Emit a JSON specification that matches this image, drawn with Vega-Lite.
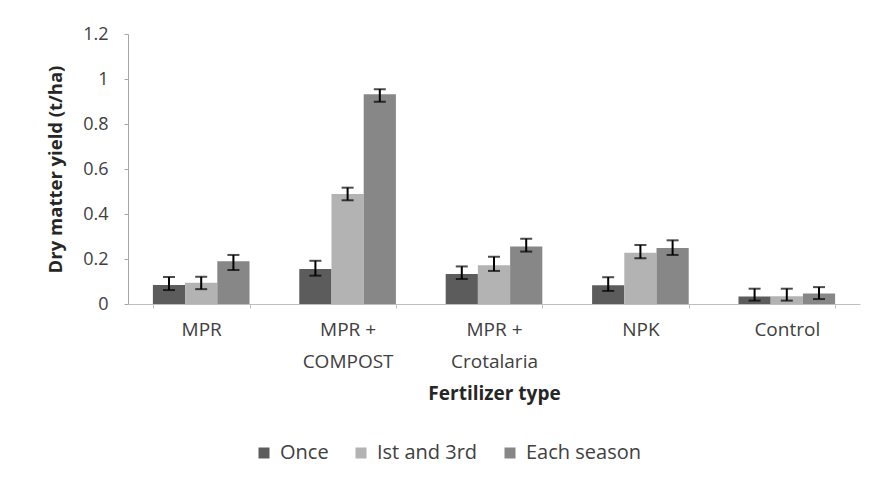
{
  "$schema": "https://vega.github.io/schema/vega-lite/v6.json",
  "width": 732,
  "height": 270,
  "autosize": {"type": "none"},
  "padding": {"left": 128, "top": 34, "right": 15, "bottom": 177},
  "background": "white",
  "config": {"view": {"stroke": null}, "font": "Open Sans"},
  "data": {
    "values": [
      {"fert": "MPR", "freq": "Once", "value": 0.085, "lo": 0.062, "hi": 0.12},
      {"fert": "MPR", "freq": "Ist and 3rd", "value": 0.095, "lo": 0.066, "hi": 0.121},
      {"fert": "MPR", "freq": "Each season", "value": 0.19, "lo": 0.151, "hi": 0.218},
      {"fert": "MPR + COMPOST", "freq": "Once", "value": 0.156, "lo": 0.126, "hi": 0.192},
      {"fert": "MPR + COMPOST", "freq": "Ist and 3rd", "value": 0.489, "lo": 0.461, "hi": 0.517},
      {"fert": "MPR + COMPOST", "freq": "Each season", "value": 0.932, "lo": 0.899, "hi": 0.955},
      {"fert": "MPR + Crotalaria", "freq": "Once", "value": 0.133, "lo": 0.111, "hi": 0.167},
      {"fert": "MPR + Crotalaria", "freq": "Ist and 3rd", "value": 0.172, "lo": 0.147, "hi": 0.21},
      {"fert": "MPR + Crotalaria", "freq": "Each season", "value": 0.256, "lo": 0.233, "hi": 0.29},
      {"fert": "NPK", "freq": "Once", "value": 0.083, "lo": 0.058, "hi": 0.119},
      {"fert": "NPK", "freq": "Ist and 3rd", "value": 0.228, "lo": 0.203, "hi": 0.262},
      {"fert": "NPK", "freq": "Each season", "value": 0.249, "lo": 0.218, "hi": 0.283},
      {"fert": "Control", "freq": "Once", "value": 0.033, "lo": 0.015, "hi": 0.068},
      {"fert": "Control", "freq": "Ist and 3rd", "value": 0.035, "lo": 0.015, "hi": 0.068},
      {"fert": "Control", "freq": "Each season", "value": 0.047, "lo": 0.022, "hi": 0.075}
    ]
  },
  "encoding": {
    "x": {
      "field": "fert",
      "type": "nominal",
      "sort": ["MPR", "MPR + COMPOST", "MPR + Crotalaria", "NPK", "Control"],
      "scale": {"paddingInner": 0.34, "paddingOuter": 0.17},
      "axis": {
        "title": "Fertilizer type",
        "titleFontSize": 19,
        "titleFontWeight": "bold",
        "titleColor": "#262626",
        "titleY": 95,
        "titleBaseline": "alphabetic",
        "labelAngle": 0,
        "labelFontSize": 19,
        "labelColor": "#404040",
        "labelPadding": 12,
        "labelBaseline": "top",
        "labelLineHeight": 32,
        "labelExpr": "indexof(datum.label, '+') > 0 ? [substring(datum.label, 0, indexof(datum.label, '+') + 1), substring(datum.label, indexof(datum.label, '+') + 2)] : datum.label",
        "tickBand": "extent",
        "tickSize": 4,
        "tickColor": "#bfbfbf",
        "domainColor": "#bfbfbf"
      }
    },
    "xOffset": {
      "field": "freq",
      "type": "nominal",
      "sort": ["Once", "Ist and 3rd", "Each season"],
      "scale": {"paddingInner": 0, "paddingOuter": 0}
    }
  },
  "layer": [
    {
      "mark": {"type": "bar"},
      "encoding": {
        "y": {
          "field": "value",
          "type": "quantitative",
          "scale": {"domain": [0, 1.2], "nice": false},
          "axis": {
            "title": "Dry matter yield (t/ha)",
            "titleFontSize": 18.5,
            "titleFontWeight": "bold",
            "titleColor": "#262626",
            "titleX": -73,
            "titleBaseline": "middle",
            "values": [0, 0.2, 0.4, 0.6, 0.8, 1, 1.2],
            "format": ".1~f",
            "labelFontSize": 18,
            "labelColor": "#404040",
            "labelPadding": 16,
            "tickSize": 4,
            "tickColor": "#a6a6a6",
            "domainColor": "#a6a6a6",
            "grid": false
          }
        },
        "color": {
          "field": "freq",
          "type": "nominal",
          "sort": ["Once", "Ist and 3rd", "Each season"],
          "scale": {"domain": ["Once", "Ist and 3rd", "Each season"], "range": ["#5c5c5c", "#b3b3b3", "#878787"]},
          "legend": {
            "title": null,
            "orient": "none",
            "direction": "horizontal",
            "legendX": 126,
            "legendY": 409,
            "symbolType": "square",
            "symbolSize": 121,
            "symbolStrokeWidth": 0,
            "labelFontSize": 20,
            "labelColor": "#404040",
            "labelOffset": 6,
            "columnPadding": 22
          }
        }
      }
    },
    {
      "mark": {"type": "rule", "color": "black", "strokeWidth": 2},
      "encoding": {
        "y": {"field": "lo", "type": "quantitative"},
        "y2": {"field": "hi"}
      }
    },
    {
      "mark": {"type": "tick", "color": "black", "thickness": 2, "size": 12},
      "encoding": {"y": {"field": "hi", "type": "quantitative"}}
    },
    {
      "mark": {"type": "tick", "color": "black", "thickness": 2, "size": 12},
      "encoding": {"y": {"field": "lo", "type": "quantitative"}}
    }
  ]
}
